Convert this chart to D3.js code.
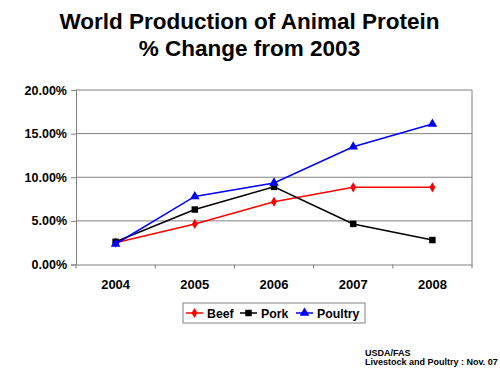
<!DOCTYPE html>
<html>
<head>
<meta charset="utf-8">
<title>World Production of Animal Protein</title>
<script src="https://d3js.org/d3.v7.min.js"></script>
<style>
  body { margin: 0; background: #fff; }
  text { font-family: Arial, "Liberation Sans", sans-serif; }
</style>
</head>
<body>
<div id="chart"></div>
<script>
// data
const years = ["2004", "2005", "2006", "2007", "2008"];
const beef = [2.5, 4.65, 7.2, 8.85, 8.85];
const pork = [2.6, 6.3, 8.9, 4.65, 2.8];
const poultry = [2.35, 7.8, 9.35, 13.5, 16.1];
const yTicks = [0, 5, 10, 15, 20];

const series = [
    { name: "Beef", values: beef, color: "#ff0000", marker: "diamond" },
    { name: "Pork", values: pork, color: "#000000", marker: "square" },
    { name: "Poultry", values: poultry, color: "#0000ff", marker: "triangle" }
];

const W = 500, H = 376;
const plot = { left: 76, right: 472, top: 90, bottom: 264.5 };

const svg = d3.select("#chart").append("svg")
    .attr("width", W)
    .attr("height", H);

// title
svg.append("text")
    .attr("x", 249.5).attr("y", 29)
    .attr("text-anchor", "middle")
    .style("font-size", "22.5px").style("font-weight", "bold")
    .text("World Production of Animal Protein");
svg.append("text")
    .attr("x", 249.5).attr("y", 55.5)
    .attr("text-anchor", "middle")
    .style("font-size", "22.5px").style("font-weight", "bold")
    .text("% Change from 2003");

const x = d3.scaleBand().domain(years).range([plot.left, plot.right]);
const y = d3.scaleLinear().domain([0, 20]).range([plot.bottom, plot.top]);

// gridlines
svg.append("g")
    .selectAll("line")
    .data(yTicks.slice(1))
    .join("line")
    .attr("x1", plot.left).attr("x2", plot.right)
    .attr("y1", d => y(d)).attr("y2", d => y(d))
    .attr("stroke", "#808080").attr("stroke-width", 1);

// right border
svg.append("line")
    .attr("x1", plot.right).attr("x2", plot.right)
    .attr("y1", plot.top).attr("y2", plot.bottom)
    .attr("stroke", "#808080");

// y axis
const yAxis = svg.append("g")
    .attr("transform", "translate(" + plot.left + ",0)")
    .call(d3.axisLeft(y).tickValues(yTicks).tickSize(5).tickPadding(4)
        .tickFormat(d => d.toFixed(2) + "%"));
yAxis.select(".domain").attr("stroke", "#808080");
yAxis.selectAll(".tick line").attr("stroke", "#808080");
yAxis.selectAll("text")
    .style("font-size", "12.5px").style("font-weight", "bold")
    .attr("fill", "#000");

// x axis, ticks on band edges
const xAxis = svg.append("g")
    .attr("transform", "translate(0," + plot.bottom + ")")
    .call(d3.axisBottom(x).tickSize(0).tickPadding(15));
xAxis.select(".domain").attr("stroke", "#808080");
xAxis.selectAll("text")
    .style("font-size", "13px").style("font-weight", "bold")
    .attr("fill", "#000");
xAxis.selectAll(".edge")
    .data(years.map(d => x(d)).concat([plot.right]))
    .join("line")
    .attr("class", "edge")
    .attr("x1", d => d).attr("x2", d => d)
    .attr("y1", 0).attr("y2", 4)
    .attr("stroke", "#808080");

function markerPath(type) {
    if (type === "diamond") return d3.symbol(d3.symbolDiamond, 30)();
    if (type === "square") return d3.symbol(d3.symbolSquare, 42)();
    return d3.symbol(d3.symbolTriangle, 40)();
}

const line = d3.line()
    .x((d, i) => x(years[i]) + x.bandwidth() / 2)
    .y(d => y(d));

series.forEach(s => {
    const g = svg.append("g");
    g.append("path")
        .attr("d", line(s.values))
        .attr("fill", "none")
        .attr("stroke", s.color)
        .attr("stroke-width", 1.5);
    g.selectAll("path.mk")
        .data(s.values)
        .join("path")
        .attr("class", "mk")
        .attr("d", markerPath(s.marker))
        .attr("transform", (d, i) => "translate(" + (x(years[i]) + x.bandwidth() / 2) + "," + y(d) + ")")
        .attr("fill", s.color);
});

// legend
const legend = svg.append("g").attr("transform", "translate(183,303)");
legend.append("rect")
    .attr("width", 182).attr("height", 20)
    .attr("fill", "#fff").attr("stroke", "#808080");
const legendX = [3, 57, 113];
series.forEach((s, i) => {
    const item = legend.append("g").attr("transform", "translate(" + legendX[i] + ",10)");
    item.append("line")
        .attr("x1", 0).attr("x2", 17)
        .attr("stroke", s.color).attr("stroke-width", 1.5);
    item.append("path")
        .attr("d", markerPath(s.marker))
        .attr("transform", "translate(8.5,0)")
        .attr("fill", s.color);
    item.append("text")
        .attr("x", 21).attr("y", 4.5)
        .style("font-size", "12.3px").style("font-weight", "bold")
        .text(s.name);
});

// source note
svg.append("text")
    .attr("x", 365).attr("y", 355.5)
    .style("font-size", "9px").style("font-weight", "bold")
    .text("USDA/FAS");
svg.append("text")
    .attr("x", 365).attr("y", 365)
    .style("font-size", "9px").style("font-weight", "bold")
    .text("Livestock and Poultry : Nov. 07");
</script>
</body>
</html>
